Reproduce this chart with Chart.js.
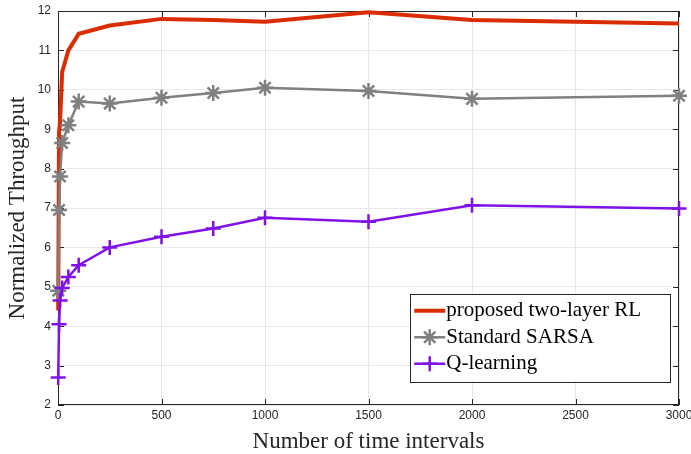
<!DOCTYPE html>
<html lang="en">
<head>
    <meta charset="UTF-8">
    <title>Normalized Throughput</title>
    <script src="https://cdn.jsdelivr.net/npm/chart.js"></script>
    <style>
        html, body { margin: 0; padding: 0; background: #fff; }
        #wrap { width: 691px; height: 454px; }
    </style>
</head>
<body>
<div id="wrap"><canvas id="throughputChart"></canvas></div>
<script>
    // data
    const intervals = [1, 5, 10, 20, 50, 100, 250, 500, 750, 1000, 1500, 2000, 3000];
    const twoLayerRL = [4.4, 8.9, 9.2, 10.45, 11.0, 11.42, 11.63, 11.8, 11.77, 11.73, 11.97, 11.77, 11.68];
    const sarsa = [4.9, 6.95, 7.8, 8.65, 9.1, 9.7, 9.65, 9.8, 9.92, 10.05, 9.97, 9.77, 9.85];
    const qLearning = [2.7, 4.05, 4.65, 4.97, 5.25, 5.55, 6.0, 6.27, 6.48, 6.75, 6.65, 7.07, 6.99];
    const seriesNames = ['proposed two-layer RL', 'Standard SARSA', 'Q-learning'];
    const xTicks = [0, 500, 1000, 1500, 2000, 2500, 3000];
    const yTicks = [2, 3, 4, 5, 6, 7, 8, 9, 10, 11, 12];

    const toPoints = (ys) => intervals.map((x, i) => ({ x: x, y: ys[i] }));
    const serif = "'Liberation Serif', 'DejaVu Serif', serif";
    const sans = "'Liberation Sans', Arial, sans-serif";

    // MATLAB style box with inward ticks
    const boxPlugin = {
        id: 'boxAxes',
        beforeDatasetsDraw(chart) {
            const { ctx, chartArea: a, scales } = chart;
            ctx.save();
            ctx.strokeStyle = '#262626';
            ctx.lineWidth = 1;
            ctx.strokeRect(a.left + 0.5, a.top + 0.5, a.right - a.left - 1, a.bottom - a.top - 1);
            const t = 6;
            ctx.beginPath();
            xTicks.forEach(v => {
                const px = Math.round(scales.x.getPixelForValue(v)) + 0.5;
                ctx.moveTo(px, a.bottom); ctx.lineTo(px, a.bottom - t);
                ctx.moveTo(px, a.top); ctx.lineTo(px, a.top + t);
            });
            yTicks.forEach(v => {
                const py = Math.round(scales.y.getPixelForValue(v)) + 0.5;
                ctx.moveTo(a.left, py); ctx.lineTo(a.left + t, py);
                ctx.moveTo(a.right, py); ctx.lineTo(a.right - t, py);
            });
            ctx.stroke();
            ctx.restore();
        }
    };

    // legend box inside lower right of the plot
    const legendPlugin = {
        id: 'innerLegend',
        afterDraw(chart) {
            const { ctx, chartArea: a } = chart;
            const sets = chart.data.datasets;
            ctx.save();
            ctx.font = '21px ' + serif;
            const textW = Math.max(...sets.map(d => ctx.measureText(d.label).width));
            const w = 36 + textW + 29;
            const rowH = 26.5;
            const h = rowH * sets.length + 8;
            const right = a.right - 9, bottom = a.bottom - 24;
            const left = right - w, top = bottom - h;
            ctx.fillStyle = '#fff';
            ctx.fillRect(left, top, w, h);
            ctx.strokeStyle = '#262626';
            ctx.lineWidth = 1;
            ctx.strokeRect(Math.round(left) + 0.5, Math.round(top) + 0.5, Math.round(w), Math.round(h));
            sets.forEach((d, i) => {
                const cy = top + 4 + rowH * (i + 0.5);
                ctx.strokeStyle = d.borderColor;
                ctx.lineWidth = d.borderWidth;
                ctx.beginPath();
                ctx.moveTo(left + 4, cy); ctx.lineTo(left + 35, cy);
                ctx.stroke();
                if (d.pointRadius > 0) {
                    ctx.strokeStyle = d.pointBorderColor;
                    ctx.lineWidth = d.pointBorderWidth;
                    Chart.helpers.drawPoint(ctx, { pointStyle: d.pointStyle, radius: d.pointRadius, rotation: 0, borderWidth: d.pointBorderWidth }, left + 19.5, cy);
                }
                ctx.fillStyle = '#000';
                ctx.textBaseline = 'middle';
                ctx.fillText(d.label, left + 36, cy);
            });
            ctx.restore();
        }
    };

    const ctx = document.getElementById('throughputChart').getContext('2d');
    new Chart(ctx, {
        type: 'line',
        data: {
            datasets: [
                {
                    label: seriesNames[0],
                    data: toPoints(twoLayerRL),
                    borderColor: 'rgb(217, 45, 0)',
                    borderWidth: 4,
                    pointRadius: 0,
                    order: 3
                },
                {
                    label: seriesNames[1],
                    data: toPoints(sarsa),
                    borderColor: 'rgb(128, 128, 128)',
                    borderWidth: 2.5,
                    pointStyle: 'star',
                    pointRadius: 8,
                    pointBorderColor: 'rgb(128, 128, 128)',
                    pointBorderWidth: 2.5,
                    order: 2
                },
                {
                    label: seriesNames[2],
                    data: toPoints(qLearning),
                    borderColor: 'rgb(126, 18, 232)',
                    borderWidth: 2.5,
                    pointStyle: 'cross',
                    pointRadius: 7.5,
                    pointBorderColor: 'rgb(126, 18, 232)',
                    pointBorderWidth: 2.5,
                    order: 1
                }
            ]
        },
        options: {
            responsive: true,
            maintainAspectRatio: false,
            animation: false,
            layout: { padding: { left: 0, right: 12, top: 11, bottom: 0 } },
            elements: { line: { tension: 0, fill: false } },
            datasets: { line: { clip: false } },
            plugins: { legend: { display: false }, tooltip: { enabled: false } },
            scales: {
                x: {
                    type: 'linear',
                    min: 0, max: 3000,
                    afterBuildTicks: (s) => { s.ticks = xTicks.map(v => ({ value: v })); },
                    afterFit: (s) => { s.height = 49; s.paddingLeft = 0; s.paddingRight = 0; },
                    grid: { color: 'rgb(232, 232, 232)', drawTicks: false },
                    border: { display: false },
                    ticks: { color: '#262626', font: { family: sans, size: 12 }, padding: 3, maxRotation: 0, callback: (v) => String(v) },
                    title: { display: true, text: 'Number of time intervals', color: '#262626', font: { family: serif, size: 23 }, padding: { top: 0, bottom: -2 } }
                },
                y: {
                    type: 'linear',
                    min: 2, max: 12,
                    afterBuildTicks: (s) => { s.ticks = yTicks.map(v => ({ value: v })); },
                    afterFit: (s) => { s.width = 58; s.paddingTop = 0; s.paddingBottom = 0; },
                    grid: { color: 'rgb(232, 232, 232)', drawTicks: false },
                    border: { display: false },
                    ticks: { color: '#262626', font: { family: sans, size: 12 }, padding: 7, callback: (v) => String(v) },
                    title: { display: true, text: 'Normalized Throughput', color: '#262626', font: { family: serif, size: 23 }, padding: { top: 4, bottom: 0 } }
                }
            }
        },
        plugins: [boxPlugin, legendPlugin]
    });
</script>
</body>
</html>
